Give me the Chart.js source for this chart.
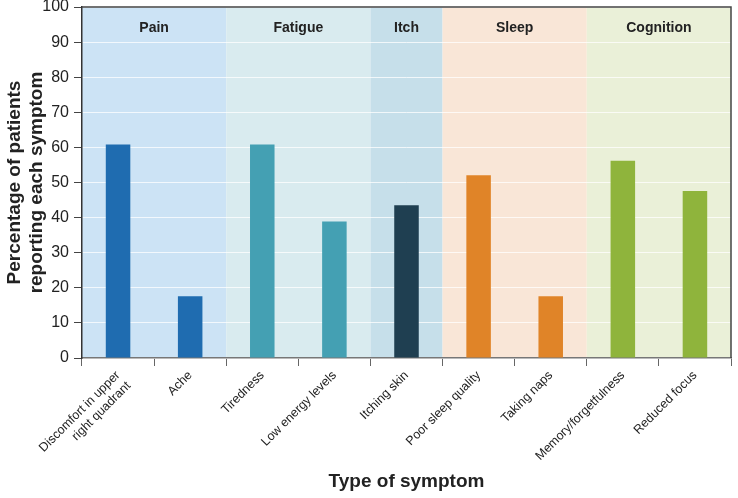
<!DOCTYPE html>
<html>
<head>
<meta charset="utf-8">
<script src="https://cdn.jsdelivr.net/npm/chart.js@4.4.1/dist/chart.umd.min.js"></script>
<style>
  html, body { margin: 0; padding: 0; background: #fff; }
  #wrap { width: 738px; height: 498px; }
</style>
</head>
<body>
<div id="wrap"><canvas id="symptomChart" width="738" height="498"></canvas></div>
<script>
const symptoms = [
    ['Discomfort in upper', 'right quadrant'], 'Ache',
    'Tiredness', 'Low energy levels',
    'Itching skin',
    'Poor sleep quality', 'Taking naps',
    'Memory/forgetfulness', 'Reduced focus'
];
const percentages = [60.8, 17.6, 60.8, 38.9, 43.5, 52.1, 17.6, 56.2, 47.6];

const groups = ['Pain', 'Fatigue', 'Itch', 'Sleep', 'Cognition'];
const groupStart = [0, 2, 4, 5, 7];
const groupEnd = [1, 3, 4, 6, 8];
const groupBar = ['#1f6cb0', '#44a0b3', '#1f3f51', '#e08428', '#8fb43c'];
const groupBg = ['#cce3f5', '#d9ebef', '#c6dfea', '#f9e6d7', '#eaf0d8'];

const yTicks = [0, 10, 20, 30, 40, 50, 60, 70, 80, 90, 100];

const fontFam = "'Liberation Sans', Arial, sans-serif";

// colour of each bar from its group
const barColors = symptoms.map((s, i) => {
    let g = 0;
    groupStart.forEach((st, k) => { if (i >= st) g = k; });
    return groupBar[g];
});

const bandPlugin = {
    id: 'bands',
    beforeDraw(chart) {
        const ctx = chart.ctx;
        const area = chart.chartArea;
        const x = chart.scales.x;
        const half = (x.getPixelForValue(1) - x.getPixelForValue(0)) / 2;
        ctx.save();
        groups.forEach((g, k) => {
            const left = x.getPixelForValue(groupStart[k]) - half;
            const right = x.getPixelForValue(groupEnd[k]) + half;
            ctx.fillStyle = groupBg[k];
            ctx.fillRect(left, area.top, right - left, area.bottom - area.top);
        });
        ctx.restore();
    },
    afterDraw(chart) {
        const ctx = chart.ctx;
        const area = chart.chartArea;
        const x = chart.scales.x;
        const half = (x.getPixelForValue(1) - x.getPixelForValue(0)) / 2;
        ctx.save();
        // group headers
        ctx.fillStyle = '#222';
        ctx.font = 'bold 14px ' + fontFam;
        ctx.textAlign = 'center';
        ctx.textBaseline = 'middle';
        groups.forEach((g, k) => {
            const left = x.getPixelForValue(groupStart[k]) - half;
            const right = x.getPixelForValue(groupEnd[k]) + half;
            ctx.fillText(g, (left + right) / 2, area.top + 21);
        });
        // frame top and right
        ctx.strokeStyle = '#444';
        ctx.lineWidth = 1.5;
        ctx.beginPath();
        ctx.moveTo(area.left, area.top);
        ctx.lineTo(area.right, area.top);
        ctx.lineTo(area.right, area.bottom);
        ctx.stroke();
        ctx.restore();
    }
};

const chartCtx = document.getElementById('symptomChart').getContext('2d');
const symptomChart = new Chart(chartCtx, {
    type: 'bar',
    data: {
        labels: symptoms,
        datasets: [{
            label: 'Percentage of patients',
            data: percentages,
            backgroundColor: barColors,
            borderWidth: 0,
            barPercentage: 0.34,
            categoryPercentage: 1
        }]
    },
    options: {
        responsive: false,
        animation: false,
        layout: { padding: { left: 0, right: 7, top: 7, bottom: 0 } },
        plugins: {
            legend: { display: false },
            tooltip: { enabled: false }
        },
        scales: {
            x: {
                afterFit: scale => { scale.height = 140; },
                grid: {
                    offset: true,
                    drawOnChartArea: false,
                    drawTicks: true,
                    tickLength: 8,
                    color: '#666'
                },
                border: { display: true, color: '#777', width: 1.5 },
                ticks: {
                    color: '#222',
                    font: { family: fontFam, size: 12.5 },
                    maxRotation: 45,
                    minRotation: 45,
                    autoSkip: false,
                    padding: 2
                },
                title: {
                    display: true,
                    text: 'Type of symptom',
                    color: '#222',
                    font: { family: fontFam, size: 19, weight: 'bold' },
                    padding: { top: 0, bottom: 5 }
                }
            },
            y: {
                min: 0,
                max: 100,
                afterFit: scale => {
                    scale.width = 82;
                    scale.paddingTop = 0;
                    scale.paddingBottom = 0;
                },
                afterBuildTicks: scale => { scale.ticks = yTicks.map(v => ({ value: v })); },
                grid: {
                    color: 'rgba(255,255,255,0.75)',
                    lineWidth: 1,
                    tickColor: '#444',
                    tickLength: 8
                },
                border: { display: true, color: '#333', width: 1.5 },
                ticks: {
                    color: '#222',
                    font: { family: fontFam, size: 16 },
                    padding: 5
                },
                title: {
                    display: true,
                    text: ['Percentage of patients', 'reporting each symptom'],
                    color: '#222',
                    font: { family: fontFam, size: 19, weight: 'bold' },
                    padding: { top: 3, bottom: 0 }
                }
            }
        }
    },
    plugins: [bandPlugin]
});
</script>
</body>
</html>
